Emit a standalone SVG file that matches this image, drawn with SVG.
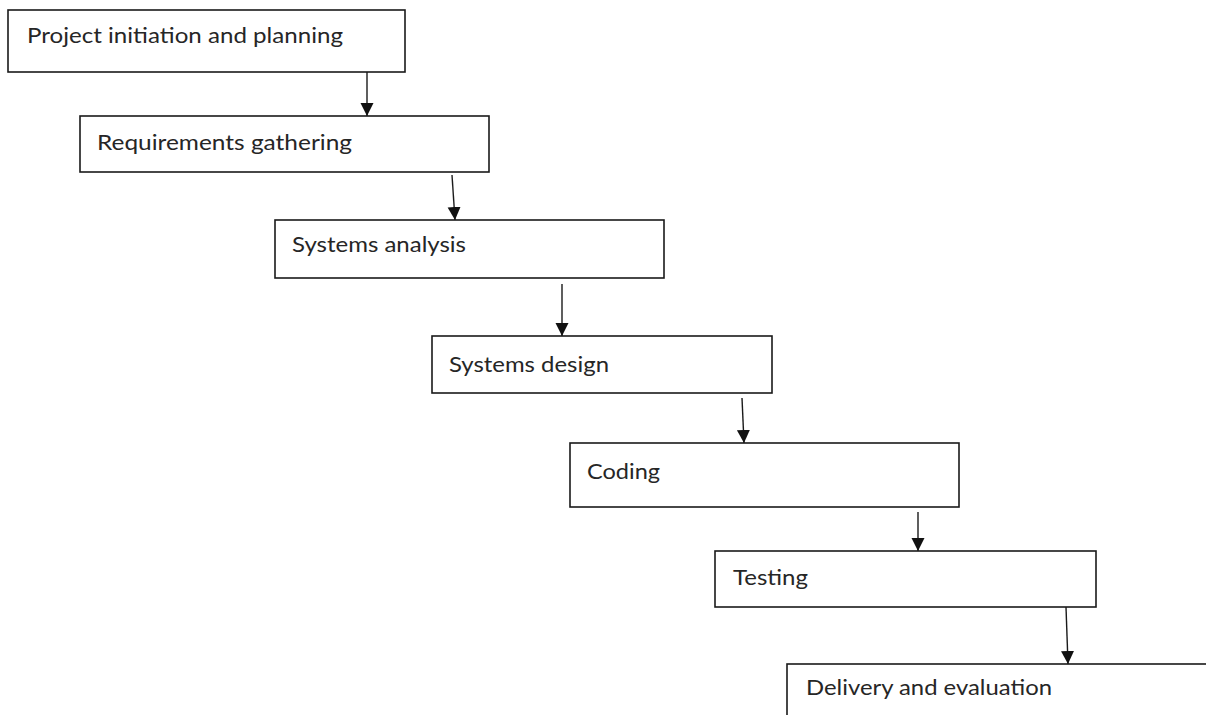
<svg xmlns="http://www.w3.org/2000/svg" width="1206" height="715" viewBox="0 0 1206 715">
<defs>
<style>
.box{fill:#fff;stroke:#1a1a1a;stroke-width:1.6}
.lbl{font-family:Lato,"Open Sans","Liberation Sans",sans-serif;font-size:22px;fill:#262626}
.con{stroke:#1a1a1a;stroke-width:1.4;fill:none}
</style>
<marker id="ah" markerUnits="userSpaceOnUse" markerWidth="14" markerHeight="14" viewBox="0 0 14 14" refX="13" refY="7" orient="auto">
<path d="M0,0.5 L13,7 L0,13.5 Z" fill="#111"/>
</marker>
</defs>
<rect width="1206" height="715" fill="#fff"/>
<g id="n1"><rect class="box" x="8" y="10" width="397" height="62"/><text class="lbl" x="27" y="43" textLength="316" lengthAdjust="spacingAndGlyphs">Project initiation and planning</text></g>
<g id="n2"><rect class="box" x="80" y="116" width="409" height="56"/><text class="lbl" x="97" y="150" textLength="255" lengthAdjust="spacingAndGlyphs">Requirements gathering</text></g>
<g id="n3"><rect class="box" x="275" y="220" width="389" height="58"/><text class="lbl" x="292" y="252" textLength="174" lengthAdjust="spacingAndGlyphs">Systems analysis</text></g>
<g id="n4"><rect class="box" x="432" y="336" width="340" height="57"/><text class="lbl" x="449" y="372" textLength="160" lengthAdjust="spacingAndGlyphs">Systems design</text></g>
<g id="n5"><rect class="box" x="570" y="443" width="389" height="64"/><text class="lbl" x="587" y="479" textLength="73" lengthAdjust="spacingAndGlyphs">Coding</text></g>
<g id="n6"><rect class="box" x="715" y="551" width="381" height="56"/><text class="lbl" x="733" y="585" textLength="75" lengthAdjust="spacingAndGlyphs">Testing</text></g>
<g id="n7"><rect class="box" x="787" y="664" width="500" height="100"/><text class="lbl" x="806" y="695" textLength="246" lengthAdjust="spacingAndGlyphs">Delivery and evaluation</text></g>
<g id="connectors">
<line class="con" x1="367" y1="72" x2="367" y2="116" marker-end="url(#ah)"/>
<line class="con" x1="452" y1="175" x2="455" y2="220" marker-end="url(#ah)"/>
<line class="con" x1="562" y1="284" x2="562" y2="336" marker-end="url(#ah)"/>
<line class="con" x1="742" y1="398" x2="744" y2="443" marker-end="url(#ah)"/>
<line class="con" x1="918" y1="512" x2="918" y2="551" marker-end="url(#ah)"/>
<line class="con" x1="1066" y1="607" x2="1068" y2="664" marker-end="url(#ah)"/>
</g>
</svg>
